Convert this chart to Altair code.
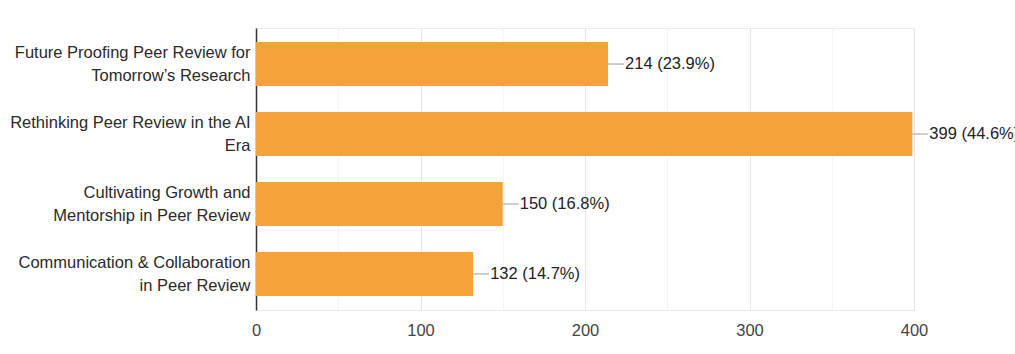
import altair as alt
import pandas as pd

categories = [
    "Future Proofing Peer Review for\nTomorrow\u2019s Research",
    "Rethinking Peer Review in the AI\nEra",
    "Cultivating Growth and\nMentorship in Peer Review",
    "Communication & Collaboration\nin Peer Review",
]
counts = [214, 399, 150, 132]
percents = ["23.9%", "44.6%", "16.8%", "14.7%"]
x_ticks = [0, 50, 100, 150, 200, 250, 300, 350, 400]

df = pd.DataFrame({
    "category": categories,
    "count": counts,
    "label": [f"{c} ({p})" for c, p in zip(counts, percents)],
})

FONT = "Liberation Sans"
FS = 16.5

y_enc = alt.Y(
    "category:N",
    sort=categories,
    title=None,
    scale=alt.Scale(paddingInner=0.37, paddingOuter=0.2),
    axis=alt.Axis(
        labelExpr="split(datum.label, '\\n')",
        labelFontSize=FS,
        labelFont=FONT,
        labelColor="#2a2a2a",
        labelLineHeight=23,
        labelOffset=-11,
        labelPadding=6,
        labelLimit=300,
        ticks=False,
        domainColor="#333333",
        domainWidth=1.5,
        grid=False,
    ),
)

x_enc = alt.X(
    "count:Q",
    title=None,
    scale=alt.Scale(domain=[0, 400], nice=False),
    axis=alt.Axis(
        values=x_ticks,
        labelExpr="datum.value % 100 === 0 ? datum.label : ''",
        labelFontSize=FS,
        labelFont=FONT,
        labelColor="#444444",
        labelPadding=12,
        labelFlush=False,
        ticks=False,
        domain=False,
        grid=True,
        gridColor=alt.condition("datum.value % 100 === 0", alt.value("#e4e4e4"), alt.value("#f4f4f4")),
    ),
)

base = alt.Chart(df)

bars = base.mark_bar(color="#f4a33a").encode(x=x_enc, y=y_enc)

leaders = base.mark_rule(color="#9a9a9a", strokeWidth=1, x2Offset=16).encode(
    x="count:Q", x2="count:Q", y=alt.Y("category:N", sort=categories)
)

texts = base.mark_text(
    align="left", baseline="middle", dx=17, fontSize=FS, font=FONT, color="#222222"
).encode(x="count:Q", y=alt.Y("category:N", sort=categories), text="label:N")

chart = (
    alt.layer(bars, leaders, texts)
    .properties(
        width=658,
        height=282,
        autosize=alt.AutoSizeParams(type="none"),
        padding={"left": 256, "top": 28, "right": 101, "bottom": 44},
        background="white",
    )
    .configure_view(stroke="#ececec", strokeWidth=1)
)

chart.save("out.html", embed_options={"renderer": "svg", "actions": False})
